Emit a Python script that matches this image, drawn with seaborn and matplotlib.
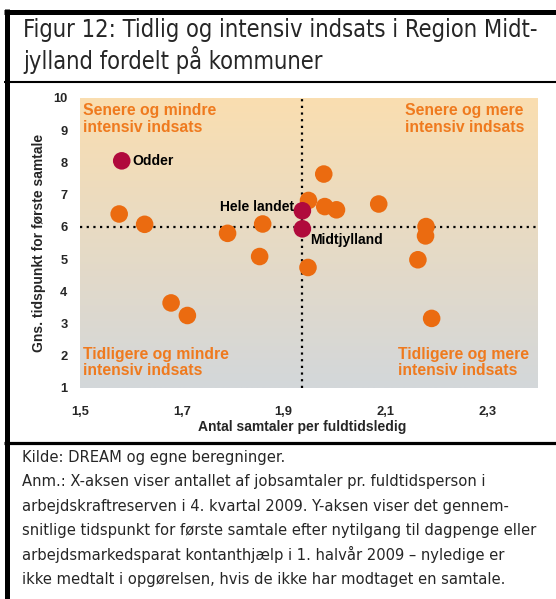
import numpy as np
import pandas as pd
import matplotlib
matplotlib.use("Agg")
import matplotlib.pyplot as plt
from matplotlib.lines import Line2D
import seaborn as sns

# ---- data ----
muni_x = [1.577, 1.627, 1.790, 1.859, 1.949, 1.979, 1.981, 2.004, 2.087, 2.180,
          2.179, 1.853, 1.948, 2.164, 1.679, 1.711, 2.191]
muni_y = [6.40, 6.08, 5.80, 6.09, 6.82, 7.64, 6.63, 6.53, 6.71, 6.01,
          5.72, 5.08, 4.74, 4.98, 3.64, 3.25, 3.16]
hl_names = ["Odder", "Hele landet", "Midtjylland"]
hl_x = [1.582, 1.937, 1.937]
hl_y = [8.05, 6.50, 5.94]
ref_x = 1.936
ref_y = 6.0
x_ticks = [1.5, 1.7, 1.9, 2.1, 2.3]
x_ticklabels = ["1,5", "1,7", "1,9", "2,1", "2,3"]
y_ticks = [1, 2, 3, 4, 5, 6, 7, 8, 9, 10]
quad_labels = ["Senere og mindre\nintensiv indsats", "Senere og mere\nintensiv indsats",
               "Tidligere og mindre\nintensiv indsats", "Tidligere og mere\nintensiv indsats"]
title_lines = ["Figur 12: Tidlig og intensiv indsats i Region Midt-",
               "jylland fordelt på kommuner"]
footer_lines = [
    "Kilde: DREAM og egne beregninger.",
    "Anm.: X-aksen viser antallet af jobsamtaler pr. fuldtidsperson i",
    "arbejdskraftreserven i 4. kvartal 2009. Y-aksen viser det gennem-",
    "snitlige tidspunkt for første samtale efter nytilgang til dagpenge eller",
    "arbejdsmarkedsparat kontanthjælp i 1. halvår 2009 – nyledige er",
    "ikke medtalt i opgørelsen, hvis de ikke har modtaget en samtale.",
]

df_m = pd.DataFrame({"x": muni_x, "y": muni_y})
df_h = pd.DataFrame({"x": hl_x, "y": hl_y, "name": hl_names})

sns.set_theme(style="white")
plt.rcParams["font.family"] = ["Liberation Sans", "DejaVu Sans"]

W, H = 556, 599
fig = plt.figure(figsize=(W / 100, H / 100), dpi=100)
ax = fig.add_axes([80 / W, 1 - 388 / H, (538 - 80) / W, (388 - 98) / H])

XMIN, XMAX, YMIN, YMAX = 1.5, 2.4, 1, 10

# gradient background
top = np.array([250, 222, 176]) / 255
bot = np.array([211, 215, 218]) / 255
t = np.linspace(0, 1, 256)[:, None, None]
grad = top * (1 - t) + bot * t
ax.imshow(grad, extent=[XMIN, XMAX, YMIN, YMAX], aspect="auto", zorder=0,
          interpolation="bilinear")

# reference lines
ax.axvline(ref_x, color="black", linestyle=(0, (1, 2)), lw=1.6, zorder=1)
ax.axhline(ref_y, color="black", linestyle=(0, (1, 2)), lw=1.6, zorder=1)

sns.scatterplot(data=df_m, x="x", y="y", ax=ax, color="#EB6B10", s=160,
                edgecolor="none", zorder=3, legend=False)
sns.scatterplot(data=df_h, x="x", y="y", ax=ax, color="#B00A3C", s=160,
                edgecolor="none", zorder=4, legend=False)

bold = dict(fontweight="bold", color="black", fontsize=10)
ax.text(df_h.x[0] + 0.021, df_h.y[0], df_h.name[0], ha="left", va="center", zorder=5, **bold)
ax.text(df_h.x[1] - 0.016, df_h.y[1] + 0.12, df_h.name[1], ha="right", va="center", zorder=5, **bold)
ax.text(df_h.x[2] + 0.016, df_h.y[2] - 0.36, df_h.name[2], ha="left", va="center", zorder=5, **bold)

qstyle = dict(color="#EF7A1E", fontweight="bold", fontsize=11.3, va="center",
              ha="left", linespacing=1.15, zorder=5)
ax.text(1.506, 9.35, quad_labels[0], **qstyle)
ax.text(2.139, 9.35, quad_labels[1], **qstyle)
ax.text(1.506, 1.79, quad_labels[2], **qstyle)
ax.text(2.124, 1.79, quad_labels[3], **qstyle)

ax.set_xlim(XMIN, XMAX)
ax.set_ylim(YMIN, YMAX)
ax.set_xticks(x_ticks)
ax.set_xticklabels(x_ticklabels)
ax.set_yticks(y_ticks)
ax.tick_params(axis="both", length=0, labelsize=9.3)
ax.tick_params(axis="x", pad=13)
ax.tick_params(axis="y", pad=9)
for lab in ax.get_xticklabels() + ax.get_yticklabels():
    lab.set_fontweight("bold")
for s in ax.spines.values():
    s.set_visible(False)

ax.set_xlabel("Antal samtaler per fuldtidsledig", fontweight="bold", fontsize=10)
ax.xaxis.set_label_coords((302 - 80) / (538 - 80), -(420 - 388) / (388 - 98))
ax.set_ylabel("Gns. tidspunkt for første samtale", fontweight="bold", fontsize=10)
ax.yaxis.set_label_coords(-(80 - 46) / (538 - 80), 0.5)

# frame lines
def hline(y, x0, x1, lw):
    fig.add_artist(Line2D([x0 / W, x1 / W], [1 - y / H, 1 - y / H], color="black",
                          lw=lw, transform=fig.transFigure, solid_capstyle="butt"))

def vline(x, y0, y1, lw):
    fig.add_artist(Line2D([x / W, x / W], [1 - y0 / H, 1 - y1 / H], color="black",
                          lw=lw, transform=fig.transFigure, solid_capstyle="butt"))

hline(11.5, 4, 556, 3.6)
vline(6.5, 9, 599, 3.6)
hline(82, 4, 556, 1.5)
hline(442.5, 4, 556, 2.3)

cond = dict(family=["DejaVu Sans"], fontstretch="condensed")
fig.text(23 / W, 1 - 37 / H, title_lines[0], fontsize=17, va="baseline", ha="left", **cond)
fig.text(23 / W, 1 - 69 / H, title_lines[1], fontsize=17, va="baseline", ha="left", **cond)

for i, line in enumerate(footer_lines):
    fig.text(22 / W, 1 - (462 + 24.4 * i) / H, line, fontsize=11.8,
             va="baseline", ha="left", **cond)

fig.savefig("out.png", dpi=100)
